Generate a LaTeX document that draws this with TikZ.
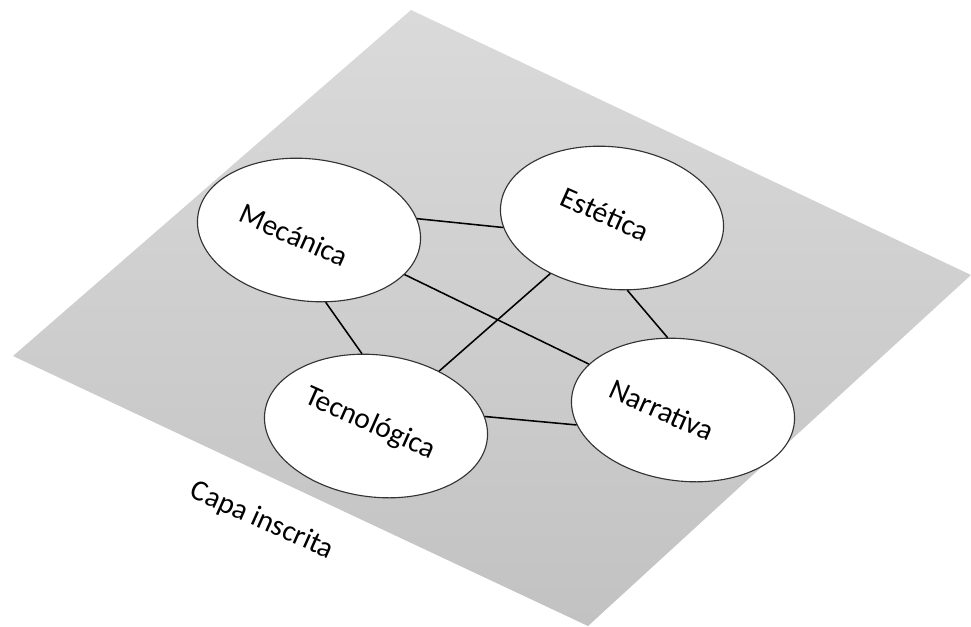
\documentclass[tikz,border=0pt]{standalone}
\usepackage{fontspec}
\setmainfont{Carlito}
\usepackage{tikz}
\usetikzlibrary{shapes.geometric}
\definecolor{cPlanoA}{HTML}{DADADA}
\definecolor{cPlanoB}{HTML}{C2C2C2}
\definecolor{cBorde}{HTML}{333333}
\tikzset{
  capa/.style={top color=cPlanoA, bottom color=cPlanoB, draw=none},
  nodo/.style={ellipse, draw=cBorde, line width=0.8pt, fill=white,
               minimum width=5.6cm, minimum height=3.55cm, inner sep=0pt,
               rotate=-7},
  rotulo/.style={font=\fontsize{21}{25}\selectfont, rotate=-24, text=black,
                 inner sep=0pt},
  enlace/.style={line width=1.1pt, draw=black},
}

\begin{document}
\begin{tikzpicture}[x=0.025cm, y=-0.025cm]
  \useasboundingbox (0,0) rectangle (971,626);
  % plano inclinado
  \shade[capa] (411,10) -- (971,275) -- (588,626) -- (13,356) -- cycle;

  \node[nodo] (mec) at (309,230) {};
  \node[nodo] (est) at (612,218) {};
  \node[nodo] (tec) at (376,426) {};
  \node[nodo] (nar) at (683,410) {};

  \node[rotulo] (tmec) at (294,235) {Mecánica};
  \node[rotulo] (test) at (605,214) {Estética};
  \node[rotulo] (ttec) at (370,424) {Tecnológica};
  \node[rotulo] (tnar) at (662,410) {Narrativa};
  \node[rotulo] (tcapa) at (262,521) {Capa inscrita};

  \draw[enlace] (mec.13) -- (est.192);
  \draw[enlace] (mec.-18) -- (nar.161);
  \draw[enlace] (mec.-70) -- (tec.108);
  \draw[enlace] (est.-131) -- (tec.48);
  \draw[enlace] (est.-71) -- (nar.109);
  \draw[enlace] (tec.12) -- (nar.195);
\end{tikzpicture}
\end{document}
